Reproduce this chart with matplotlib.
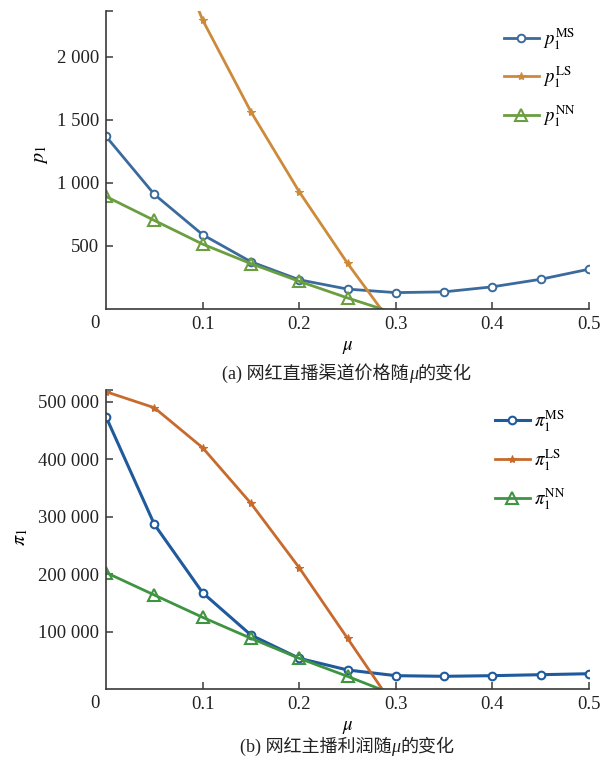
import matplotlib
matplotlib.use("Agg")
import matplotlib.pyplot as plt
from matplotlib.ticker import FuncFormatter
from matplotlib.offsetbox import TextArea, HPacker, AnnotationBbox

plt.rcParams['font.family'] = ['Liberation Serif', 'Noto Sans CJK SC']
plt.rcParams['mathtext.fontset'] = 'stix'

# ---------------- data ----------------
mu = [0, 0.05, 0.1, 0.15, 0.2, 0.25, 0.3, 0.35, 0.4, 0.45, 0.5]

# (a) price
p_MS = [1370, 910, 590, 375, 232, 158, 130, 136, 176, 236, 316]
p_LS_mu = [0, 0.05, 0.1, 0.15, 0.2, 0.25, 0.3]
p_LS = [4300, 3250, 2294, 1566, 931, 363, -160]
p_NN_mu = [0, 0.05, 0.1, 0.15, 0.2, 0.25, 0.3]
p_NN = [893, 703, 515, 360, 220, 88, -36]

# (b) profit
pi_MS = [474000, 287000, 168000, 94400, 53900, 33600, 23700, 22600, 23700, 25400, 27100]
pi_LS_mu = [0, 0.05, 0.1, 0.15, 0.2, 0.25, 0.3]
pi_LS = [517500, 489700, 420200, 323500, 211500, 88700, -34500]
pi_NN_mu = [0, 0.05, 0.1, 0.15, 0.2, 0.25, 0.3]
pi_NN = [203000, 164000, 125200, 88700, 53900, 22500, -10400]

xticks = [0.1, 0.2, 0.3, 0.4, 0.5]
yticks_a = [500, 1000, 1500, 2000]
yticks_b = [100000, 200000, 300000, 400000, 500000]

# ---------------- style ----------------
W, H = 613, 761
fig = plt.figure(figsize=(W / 100, H / 100), dpi=100)

def ax_rect(x0, x1, y0, y1):
    return [x0 / W, 1 - y1 / H, (x1 - x0) / W, (y1 - y0) / H]

ax1 = fig.add_axes(ax_rect(106, 589, 11, 309))
ax2 = fig.add_axes(ax_rect(106, 589, 390, 689.3))

def fmt(v, pos):
    return f"{int(round(v)):,}".replace(",", " ")

TICK_FS = 13.5
spine_col = '#3a3a3a'

def style_axes(ax, ylim_top, yticks):
    ax.set_xlim(0, 0.5)
    ax.set_ylim(0, ylim_top)
    for s in ['top', 'right']:
        ax.spines[s].set_visible(False)
    for s in ['left', 'bottom']:
        ax.spines[s].set_color(spine_col)
        ax.spines[s].set_linewidth(1.2)
    ax.set_xticks(xticks)
    ax.set_xticklabels([f"{t:g}" for t in xticks])
    ax.set_yticks(yticks + [ylim_top])
    ax.yaxis.set_major_formatter(FuncFormatter(lambda v, p: "" if v == ylim_top else fmt(v, p)))
    ax.tick_params(axis='both', direction='in', length=5, width=1.1, color=spine_col,
                   labelsize=TICK_FS, labelcolor='#222222')
    ax.tick_params(axis='x', pad=5)
    ax.tick_params(axis='y', pad=5)
    ax.annotate('0', xy=(0, 0), xycoords='axes fraction', xytext=(-11, -14),
                textcoords='offset pixels', ha='center', va='center',
                fontsize=TICK_FS, color='#222222')

# ---- panel (a)
c_blue_a, c_orange_a, c_green_a = '#3b6a9c', '#cc8a3a', '#6a9e40'
ax1.plot(mu, p_MS, color=c_blue_a, lw=2, marker='o', ms=5.5, mfc='white', mew=1.4,
         label=r'$p_1^{\mathrm{MS}}$')
ax1.plot(p_LS_mu, p_LS, color=c_orange_a, lw=2, marker='*', ms=6, mew=0.8,
         label=r'$p_1^{\mathrm{LS}}$')
ax1.plot(p_NN_mu, p_NN, color=c_green_a, lw=2, marker='^', ms=8, mfc='none', mew=1.5,
         label=r'$p_1^{\mathrm{NN}}$')
style_axes(ax1, 2365, yticks_a)
ax1.set_xlabel(r'$\mu$', fontsize=TICK_FS, labelpad=4)
ax1.set_ylabel(r'$p_1$', fontsize=TICK_FS + 1, labelpad=0)
ax1.yaxis.set_label_coords(-0.115, 0.52)
ax1.legend(loc='upper left', bbox_to_anchor=((496 - 106) / 483, 0.975), frameon=False,
           fontsize=TICK_FS, handlelength=1.9, handletextpad=0.2, labelspacing=0.68,
           borderaxespad=0)

# ---- panel (b)
c_blue_b, c_orange_b, c_green_b = '#1f5a9c', '#c86a2c', '#3e9440'
ax2.plot(mu, pi_MS, color=c_blue_b, lw=2.2, marker='o', ms=5.5, mfc='white', mew=1.5,
         label=r'$\pi_1^{\mathrm{MS}}$')
ax2.plot(pi_LS_mu, pi_LS, color=c_orange_b, lw=2, marker='*', ms=6, mew=0.8,
         label=r'$\pi_1^{\mathrm{LS}}$')
ax2.plot(pi_NN_mu, pi_NN, color=c_green_b, lw=2, marker='^', ms=8, mfc='none', mew=1.5,
         label=r'$\pi_1^{\mathrm{NN}}$')
style_axes(ax2, 520500, yticks_b)
ax2.set_xlabel(r'$\mu$', fontsize=TICK_FS, labelpad=4)
ax2.set_ylabel(r'$\pi_1$', fontsize=TICK_FS + 1, labelpad=0)
ax2.yaxis.set_label_coords(-0.157, 0.51)
ax2.legend(loc='upper left', bbox_to_anchor=((487 - 106) / 483, 0.965), frameon=False,
           fontsize=TICK_FS, handlelength=1.9, handletextpad=0.2, labelspacing=0.73,
           borderaxespad=0)

# ---- captions
CAP_FS = 13
def caption(pre, post, xc, yc):
    fam = ['Liberation Serif', 'Noto Sans CJK SC']
    t1 = TextArea(pre, textprops=dict(fontsize=CAP_FS, family=fam, color='#222222'))
    t2 = TextArea('μ', textprops=dict(fontsize=CAP_FS, family='Liberation Serif',
                                      style='italic', color='#222222'))
    t3 = TextArea(post, textprops=dict(fontsize=CAP_FS, family=fam, color='#222222'))
    box = HPacker(children=[t1, t2, t3], align='baseline', pad=0, sep=0)
    ab = AnnotationBbox(box, (xc / W, 1 - yc / H), xycoords='figure fraction',
                        frameon=False, box_alignment=(0.5, 0.5))
    fig.add_artist(ab)

caption('(a) 网红直播渠道价格随', '的变化', 347, 373)
caption('(b) 网红主播利润随', '的变化', 347, 746)

fig.savefig('out.png', dpi=100)
